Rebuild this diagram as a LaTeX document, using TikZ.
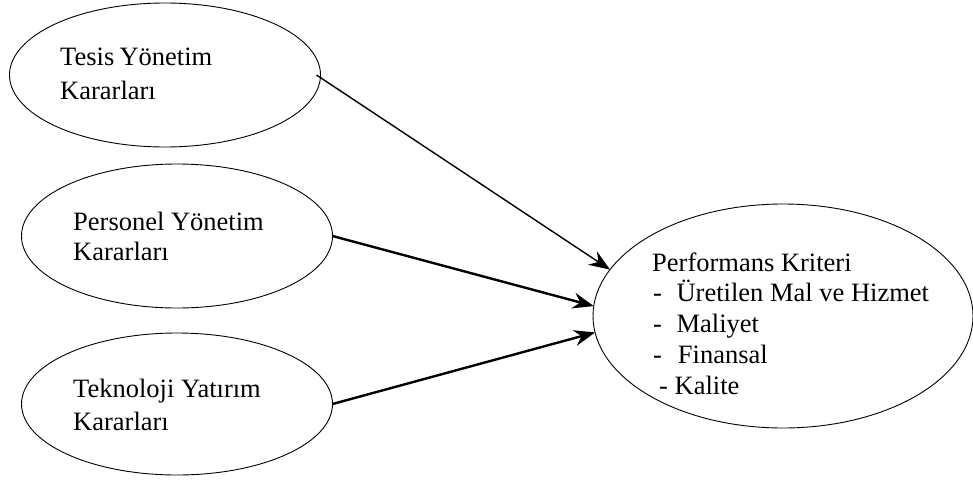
\documentclass[tikz,border=0pt]{standalone}
\usepackage{fontspec}
\setmainfont{Liberation Serif}
\usetikzlibrary{shapes.geometric,arrows.meta}
\begin{document}
\begin{tikzpicture}[x=1pt,y=1pt,
  oval/.style={draw,ellipse,line width=0.9pt,inner sep=0pt,outer sep=0pt},
  lbl/.style={anchor=base west,inner sep=0pt,font=\fontsize{26.5}{31}\selectfont},
  arr/.style={-{Stealth[length=21pt,width=16pt,inset=7pt]}}]
\useasboundingbox (0,0) rectangle (973,-482);
\node[oval,minimum width=311pt,minimum height=144pt] (e1) at (165,-75) {};
\node[oval,minimum width=311pt,minimum height=144pt] (e2) at (177,-236) {};
\node[oval,minimum width=311pt,minimum height=142pt] (e3) at (177,-404) {};
\node[oval,minimum width=380pt,minimum height=224pt] (p) at (783,-316) {};
\node[lbl] (t1a) at (60,-65) {Tesis\hspace{-0.05em} Yönetim};
\node[lbl] (t1b) at (60,-99) {Kararları};
\node[lbl] (t2a) at (73,-230) {Personel Yönetim};
\node[lbl] (t2b) at (73,-260) {Kararları};
\node[lbl] (t3a) at (73,-397) {Teknoloji Yatırım};
\node[lbl] (t3b) at (73,-430) {Kararları};
\node[lbl] (pa) at (652,-271) {Performans Kriteri};
\node[lbl] (pb) at (653,-301) {-\hspace{0.55em}Üretilen Mal ve Hizmet};
\node[lbl] (pc) at (653,-332) {-\hspace{0.55em}Maliyet};
\node[lbl] (pd) at (653,-363) {-\hspace{0.6em}Finansal};
\node[lbl] (pe) at (659,-394) {- Kalite};
\draw[arr,line width=1.4pt] ([xshift=-4pt]e1.east) -- (p.165.5);
\draw[arr,line width=2.4pt] (e2.east) -- (p.177.5);
\draw[arr,line width=2.4pt] (e3.east) -- (p.185.2);
\end{tikzpicture}
\end{document}
